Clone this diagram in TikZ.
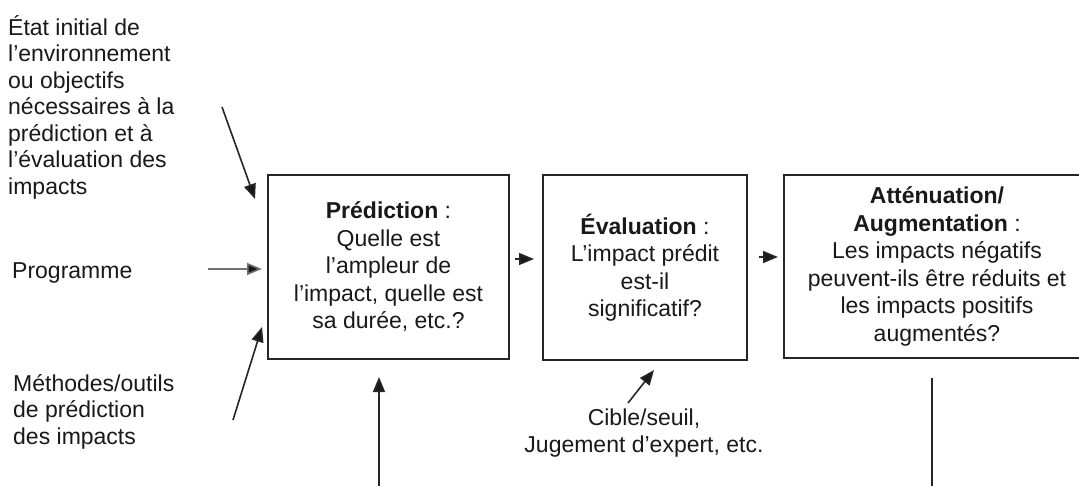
\documentclass[tikz,border=0pt]{standalone}
\usepackage{fontspec}
\setmainfont{Liberation Sans}
\usetikzlibrary{arrows.meta}
\begin{document}
\begin{tikzpicture}[x=1pt,y=-1pt,
  box/.style={draw=black!85, line width=1.7pt, inner sep=0pt, align=center,
    font=\fontsize{23}{27.5}\selectfont, text=black!90},
  side/.style={inner sep=0pt, align=left, anchor=base west,
    font=\fontsize{23}{26.5}\selectfont, text=black!90},
  low/.style={inner sep=0pt, align=center, anchor=base,
    font=\fontsize{23}{27}\selectfont, text=black!90},
  tip/.style={-{Triangle[length=15pt,width=12pt,fill=black!90]}},
  arr/.style={tip, line width=1.6pt, draw=black!85},
  plain/.style={line width=1.6pt, draw=black!85}]
\fill[white] (0,0) rectangle (1079,485);
\useasboundingbox (0,0) rectangle (1079,485);

% boxes
\node[box, minimum width=241pt, minimum height=184pt] (pred) at (388.5,267)
  {\textbf{Prédiction} :\\Quelle est\\l’ampleur de\\l’impact, quelle est\\sa durée, etc.?};
\node[box, minimum width=204pt, minimum height=185pt] (eval) at (645,267.5)
  {\textbf{Évaluation} :\\L’impact prédit\\est-il\\significatif?};
\node[box, minimum width=306pt, minimum height=183pt] (attn) at (937,266.5)
  {\textbf{Atténuation/}\\\textbf{Augmentation} :\\Les impacts négatifs\\peuvent-ils être réduits et\\les impacts positifs\\augmentés?};

% side texts (anchor = baseline of the last line)
\node[side] (etat) at (8,194)
  {État initial de\\l’environnement\\ou objectifs\\nécessaires à la\\prédiction et à\\l’évaluation des\\impacts};
\node[side] (prog) at (12,278) {Programme};
\node[side] (meth) at (13,444) {Méthodes/outils\\de prédiction\\des impacts};
\node[low] (cible) at (644,452) {Cible/seuil,\\Jugement d’expert, etc.};

% connector end points
\coordinate (a1s) at (222,107);  \coordinate (a1t) at (255,199);
\coordinate (a2s) at (208,269);  \coordinate (a2t) at (262,269);
\coordinate (a3s) at (233,420);  \coordinate (a3t) at (262,327);
\coordinate (b1s) at (515,259);  \coordinate (b1t) at (534,259);
\coordinate (b2s) at (759,257);  \coordinate (b2t) at (778,257);
\coordinate (ups) at (379,486);  \coordinate (upt) at (379,377);
\coordinate (cs)  at (628,403);  \coordinate (ct)  at (654,370);
\coordinate (ds)  at (932,378);  \coordinate (de)  at (932,486);

\draw[arr] (a1s) -- (a1t);
\draw[arr, draw=black!55] (a2s) -- (a2t);
\draw[arr] (a3s) -- (a3t);
\draw[arr] (b1s) -- (b1t);
\draw[arr] (b2s) -- (b2t);
\draw[arr] (ups) -- (upt);
\draw[arr] (cs) -- (ct);
\draw[plain] (ds) -- (de);
\end{tikzpicture}
\end{document}
